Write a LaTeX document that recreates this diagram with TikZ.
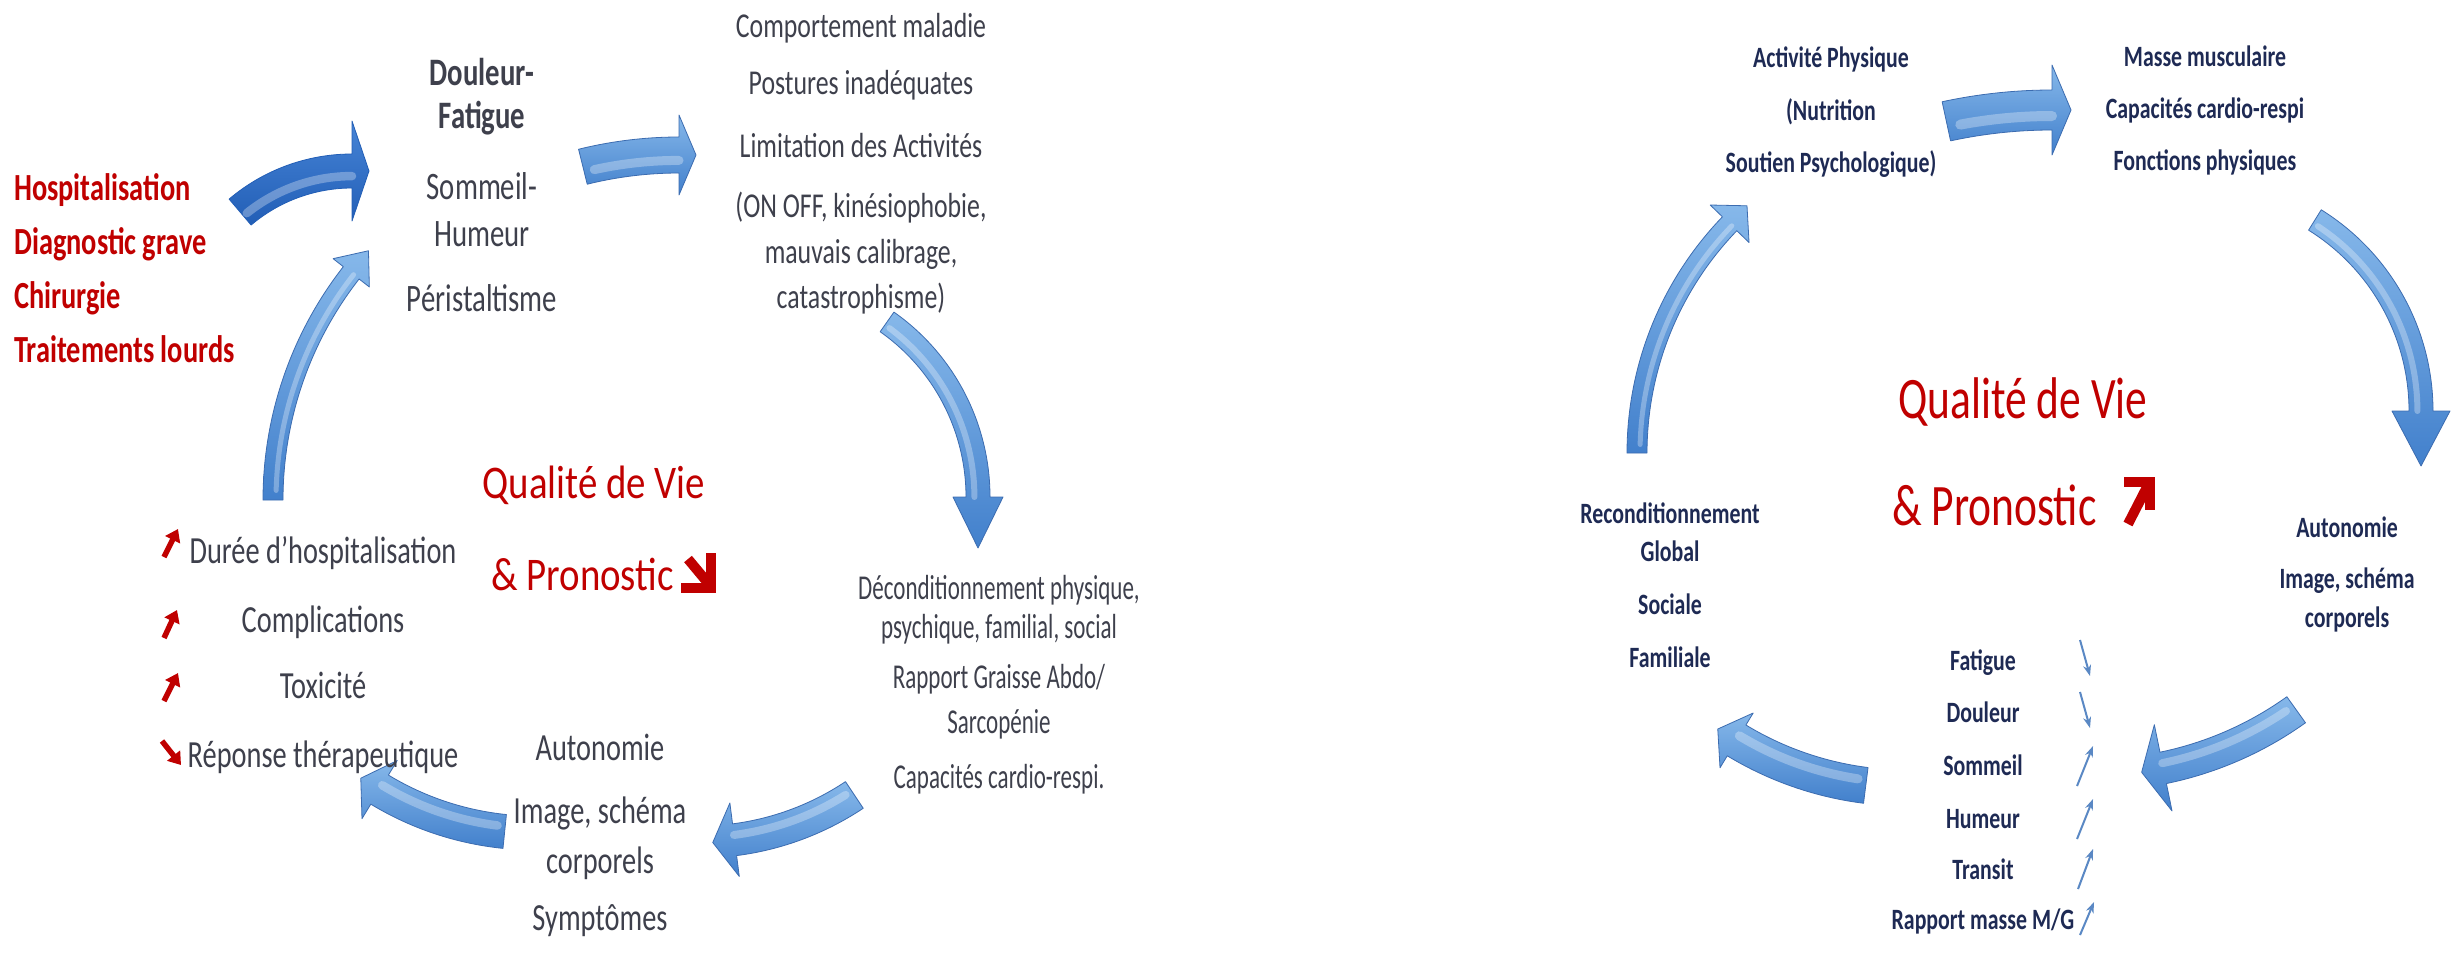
\documentclass[tikz,border=0pt]{standalone}
\usepackage{fontspec}
\setmainfont{Carlito}
\newfontfamily\fL[FakeStretch=0.74]{Carlito}
\newfontfamily\fD[FakeStretch=0.66]{Carlito}
\newfontfamily\fQ[FakeStretch=0.83]{Carlito}
\usetikzlibrary{calc,arrows.meta}

\definecolor{graytext}{RGB}{62,64,76}
\definecolor{navytext}{RGB}{30,42,84}
\definecolor{redtext}{RGB}{192,0,0}
\definecolor{arrowlight}{RGB}{134,184,234}
\definecolor{arrowmid}{RGB}{66,128,204}
\definecolor{arrowedge}{RGB}{60,108,176}
\definecolor{darklight}{RGB}{70,132,214}
\definecolor{darkmid}{RGB}{34,94,182}
\definecolor{smallarrow}{RGB}{90,136,196}

% curved block arrow on a circle: style, centre, radius, start angle,
% end angle of the body, half width of body, half width of head, head length
\newcommand\cyclearrow[8]{%
  \pgfmathsetmacro\cyRin{#3-#6}%
  \pgfmathsetmacro\cyRout{#3+#6}%
  \pgfmathsetmacro\cyHin{#3-#7}%
  \pgfmathsetmacro\cyHout{#3+#7}%
  \pgfmathsetmacro\cyTip{#5+90}%
  \path[#1] ($(#2)+(#4:\cyRin)$) arc[start angle=#4,end angle=#5,radius=\cyRin]
    -- ($(#2)+(#5:\cyHin)$) -- ($(#2)+(#5:#3)+(\cyTip:#8)$) -- ($(#2)+(#5:\cyHout)$)
    -- ($(#2)+(#5:\cyRout)$) arc[start angle=#5,end angle=#4,radius=\cyRout] -- cycle;
  \pgfmathsetmacro\cyHl{#3-0.3*#6}%
  \pgfmathsetmacro\cyHlw{0.5*#6}%
  \pgfmathsetmacro\cyHa{#4+1.5}%
  \draw[white, opacity=0.3, line width=\cyHlw bp, line cap=round]
    ($(#2)+(\cyHa:\cyHl)$) arc[start angle=\cyHa,end angle=#5,radius=\cyHl];
}

\tikzset{
  txt/.style={inner sep=0pt, anchor=base, align=center},
  redlist/.style={txt, anchor=base west, text=redtext, font=\fL\bfseries\fontsize{38.5}{40}\selectfont},
  graybold/.style={txt, text=graytext, font=\fL\bfseries\fontsize{39}{40}\selectfont},
  grayreg/.style={txt, text=graytext, font=\fL\fontsize{39}{40}\selectfont},
  graycomp/.style={txt, text=graytext, font=\fL\fontsize{35}{36}\selectfont},
  graydec/.style={txt, text=graytext, font=\fD\fontsize{35}{36}\selectfont},
  grayauto/.style={txt, text=graytext, font=\fL\fontsize{38.5}{40}\selectfont},
  qualleft/.style={txt, text=redtext, font=\fQ\fontsize{47}{48}\selectfont},
  qualright/.style={txt, text=redtext, font=\fL\fontsize{59}{60}\selectfont},
  navy/.style={txt, text=navytext, font=\fL\bfseries\fontsize{29.6}{30}\selectfont},
  bluearrow/.style={top color=arrowlight, bottom color=arrowmid, draw=arrowedge, line width=0.8bp, line join=round},
  darkarrow/.style={top color=darklight, bottom color=darkmid, draw=darkmid, line width=0.8bp, line join=round},
  redicon/.style={redtext, line width=5.5bp, -{Triangle[length=12bp,width=16bp]}},
  bigicon/.style={redtext, line width=10bp},
  tinyarrow/.style={smallarrow, line width=2bp, -{Stealth[length=11bp,width=8bp]}},
}

\begin{document}
\begin{tikzpicture}[x=1bp, y=-1bp]
\useasboundingbox (0,0) rectangle (2458,963);
\fill[white] (0,0) rectangle (2458,963);

% ---------------- left cycle: arrows ----------------
\cyclearrow{darkarrow}{352,344}{173}{229.7}{270}{17}{50}{17}
\cyclearrow{bluearrow}{679,555}{400}{256.1}{270}{18}{40}{17}
\cyclearrow{bluearrow}{764,497}{214}{-54.9}{0}{12}{25}{51}
\cyclearrow{bluearrow}{699,562}{280}{56.3}{82.7}{16}{37}{22}
\cyclearrow{bluearrow}{535,533}{300}{95.8}{121.2}{17}{34}{22}
\cyclearrow{bluearrow}{642,500}{369}{180}{218}{10}{23}{28}

% ---------------- right cycle: arrows ----------------
\cyclearrow{bluearrow}{2052,610}{500}{257.8}{270}{20}{45}{19}
\cyclearrow{bluearrow}{2196,411}{225}{-58.1}{0}{12}{29}{55}
\cyclearrow{bluearrow}{2093,426}{349}{54.4}{78.4}{16}{44}{22}
\cyclearrow{bluearrow}{1907,459}{329}{97.2}{121.2}{18}{32}{22}
\cyclearrow{bluearrow}{1967,453}{330}{180}{224}{10}{27}{25}

% ---------------- left cycle: texts ----------------
\node[redlist] (hosp)  at (14,200) {Hospitalisation};
\node[redlist] (diag)  at (14,254) {Diagnostic grave};
\node[redlist] (chir)  at (14,308) {Chirurgie};
\node[redlist] (trait) at (14,362) {Traitements lourds};

\node[graybold] (douleur) at (482,85)  {Douleur-};
\node[graybold] (fatigue) at (482,128) {Fatigue};
\node[grayreg]  (sommeil) at (482,199) {Sommeil-};
\node[grayreg]  (humeur)  at (482,246) {Humeur};
\node[grayreg]  (perist)  at (482,311) {Péristaltisme};

\node[graycomp] (comp)  at (861,37)  {Comportement maladie};
\node[graycomp] (post)  at (861,94)  {Postures inadéquates};
\node[graycomp] (limit) at (861,157) {Limitation des Activités};
\node[graycomp] (onoff) at (861,217) {(ON OFF, kinésiophobie,};
\node[graycomp] (mauv)  at (861,263) {mauvais calibrage,};
\node[graycomp] (catas) at (861,308) {catastrophisme)};

\node[qualleft] (qvL) at (594,498) {Qualité de Vie};
\node[qualleft, anchor=base west] (pronL) at (491,590) {\& Pronostic};
% heavy down-right arrow after the prognosis
\draw[bigicon, line join=miter] (711,553) -- (711,588) -- (681,588);
\draw[bigicon] (688,559) -- (708,583);

\node[graydec] (decond) at (999,599) {Déconditionnement physique,};
\node[graydec] (psych)  at (999,638) {psychique, familial, social};
\node[graydec] (rapp)   at (999,688) {Rapport Graisse Abdo/};
\node[graydec] (sarco)  at (999,733) {Sarcopénie};
\node[graydec] (capL)   at (999,788) {Capacités cardio-respi.};

\node[grayauto] (autoL)  at (600,760) {Autonomie};
\node[grayauto] (imageL) at (600,823) {Image, schéma};
\node[grayauto] (corpL)  at (600,873) {corporels};
\node[grayauto] (sympt)  at (600,930) {Symptômes};

\node[grayauto] (duree) at (323,563) {Durée d’hospitalisation};
\node[grayauto] (compl) at (323,632) {Complications};
\node[grayauto] (toxic) at (323,698) {Toxicité};
\node[grayauto] (repon) at (323,767) {Réponse thérapeutique};
\draw[redicon] (164,557) -- (178,529);
\draw[redicon] (164,638) -- (177,610);
\draw[redicon] (164,701) -- (178,673);
\draw[redicon] (162,741) -- (181,765);

% ---------------- right cycle: texts ----------------
\node[navy] (activ) at (1831,67)  {Activité Physique};
\node[navy] (nutri) at (1831,120) {(Nutrition};
\node[navy] (sout)  at (1831,172) {Soutien Psychologique)};

\node[navy] (masse) at (2205,66)  {Masse musculaire};
\node[navy] (capR)  at (2205,118) {Capacités cardio-respi};
\node[navy] (fonct) at (2205,170) {Fonctions physiques};

\node[qualright] (qvR) at (2023,418) {Qualité de Vie};
\node[qualright, anchor=base west] (pronR) at (1892,525) {\& Pronostic};
% heavy up-right arrow after the prognosis
\draw[bigicon, line join=miter] (2124,482) -- (2150,482) -- (2150,510);
\draw[bigicon] (2128,524) -- (2147,487);

\node[navy] (recond) at (1670,523) {Reconditionnement};
\node[navy] (global) at (1670,561) {Global};
\node[navy] (social) at (1670,614) {Sociale};
\node[navy] (famil)  at (1670,667) {Familiale};

\node[navy] (autoR)  at (2347,537) {Autonomie};
\node[navy] (imageR) at (2347,588) {Image, schéma};
\node[navy] (corpR)  at (2347,627) {corporels};

\node[navy] (fatR)  at (1983,670) {Fatigue};
\node[navy] (doulR) at (1983,722) {Douleur};
\node[navy] (sommR) at (1983,775) {Sommeil};
\node[navy] (humR)  at (1983,828) {Humeur};
\node[navy] (trans) at (1983,879) {Transit};
\node[navy] (rappR) at (1983,929) {Rapport masse M/G};
\draw[tinyarrow] (2080,640) -- (2090,676);
\draw[tinyarrow] (2080,692) -- (2090,728);
\draw[tinyarrow] (2077,786) -- (2093,746);
\draw[tinyarrow] (2077,839) -- (2093,799);
\draw[tinyarrow] (2078,889) -- (2093,849);
\draw[tinyarrow] (2080,935) -- (2094,902);
\end{tikzpicture}
\end{document}
